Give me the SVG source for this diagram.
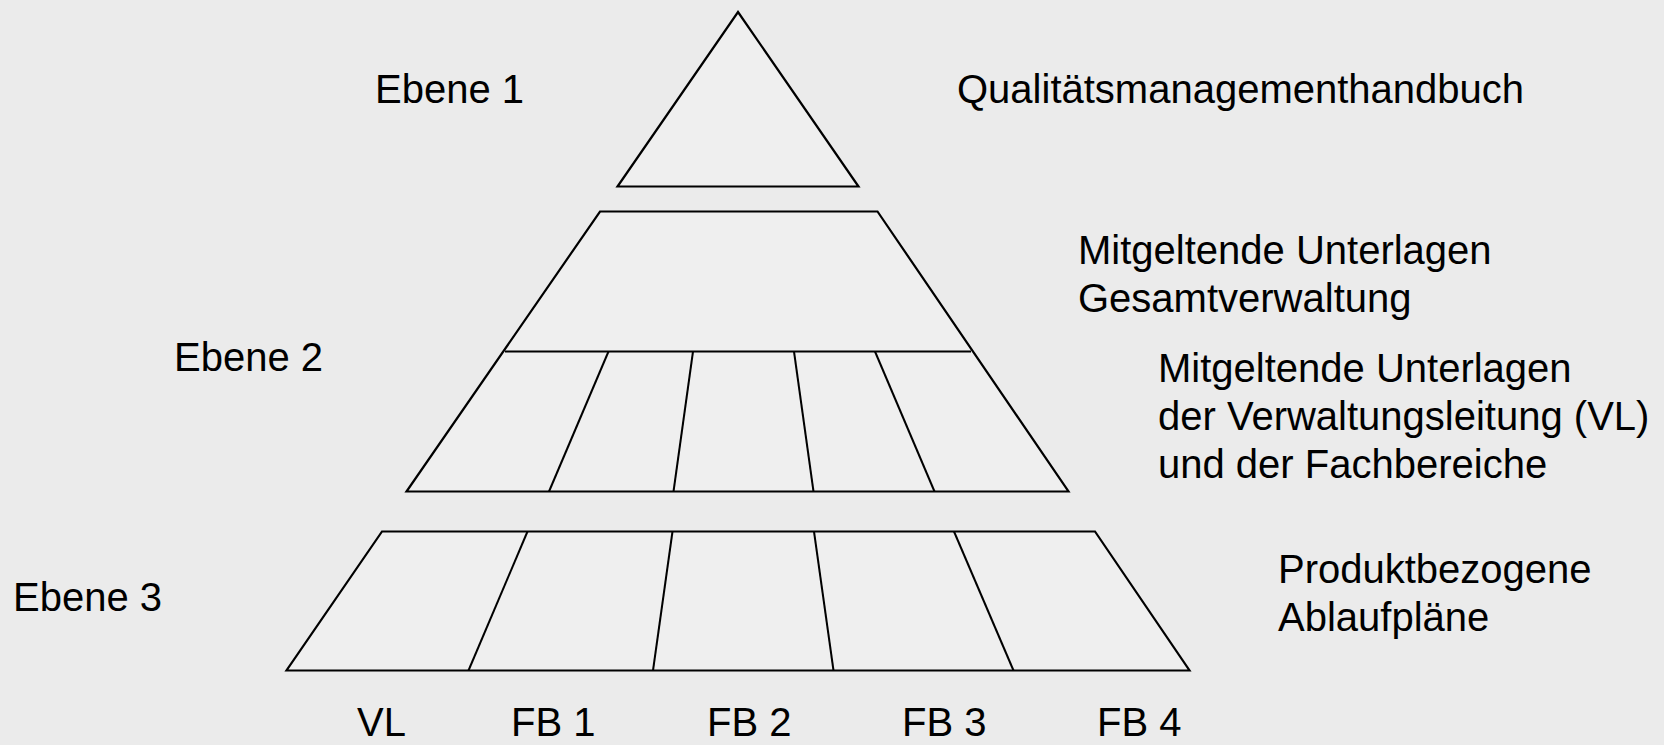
<svg xmlns="http://www.w3.org/2000/svg" width="1664" height="745" viewBox="0 0 1664 745">
  <style>
    .shape { fill: #efefef; stroke: #000; stroke-width: 2.2; stroke-linejoin: miter; }
    .div { fill: none; stroke: #000; stroke-width: 2; }
    .lbl { font-family: "Liberation Sans", Arial, sans-serif; font-size: 40px; fill: #000; }
  </style>
  <rect x="0" y="0" width="1664" height="745" fill="#ebebeb"/>

  <g id="level1">
    <polygon class="shape" points="738,12 858.5,186.5 617.5,186.5"/>
  </g>

  <g id="level2">
    <polygon class="shape" points="600,211.5 877.5,211.5 1068.5,491.5 406.5,491.5"/>
  </g>

  <g id="level3">
    <polygon class="shape" points="382,531.5 1095,531.5 1189.5,670.5 286.5,670.5"/>
  </g>

  <g id="connectors">
    <line class="div" x1="505" y1="351.5" x2="971" y2="351.5"/>
    <line class="div" x1="608.5" y1="351.5" x2="549" y2="491.5"/>
    <line class="div" x1="693" y1="351.5" x2="673.5" y2="491.5"/>
    <line class="div" x1="794" y1="351.5" x2="813.5" y2="491.5"/>
    <line class="div" x1="875" y1="351.5" x2="934.5" y2="491.5"/>
    <line class="div" x1="527.5" y1="531.5" x2="468.5" y2="670.5"/>
    <line class="div" x1="672.5" y1="531.5" x2="653" y2="670.5"/>
    <line class="div" x1="814" y1="531.5" x2="833.5" y2="670.5"/>
    <line class="div" x1="954" y1="531.5" x2="1013.5" y2="670.5"/>
  </g>

  <g id="label-ebene1"><text class="lbl" x="375" y="103">Ebene 1</text></g>
  <g id="label-ebene2"><text class="lbl" x="174" y="371">Ebene 2</text></g>
  <g id="label-ebene3"><text class="lbl" x="13" y="611">Ebene 3</text></g>

  <g id="label-qmh"><text class="lbl" x="957" y="103">Qualitätsmanagementhandbuch</text></g>
  <g id="label-gesamt">
    <text class="lbl" x="1078" y="264">Mitgeltende Unterlagen</text>
    <text class="lbl" x="1078" y="312">Gesamtverwaltung</text>
  </g>
  <g id="label-vl">
    <text class="lbl" x="1158" y="382">Mitgeltende Unterlagen</text>
    <text class="lbl" x="1158" y="430">der Verwaltungsleitung (VL)</text>
    <text class="lbl" x="1158" y="478">und der Fachbereiche</text>
  </g>
  <g id="label-produkt">
    <text class="lbl" x="1278" y="583">Produktbezogene</text>
    <text class="lbl" x="1278" y="631">Ablaufpläne</text>
  </g>

  <g id="label-bottom">
    <text class="lbl" x="357" y="736">VL</text>
    <text class="lbl" x="511" y="736">FB 1</text>
    <text class="lbl" x="707" y="736">FB 2</text>
    <text class="lbl" x="902" y="736">FB 3</text>
    <text class="lbl" x="1097" y="736">FB 4</text>
  </g>
</svg>
